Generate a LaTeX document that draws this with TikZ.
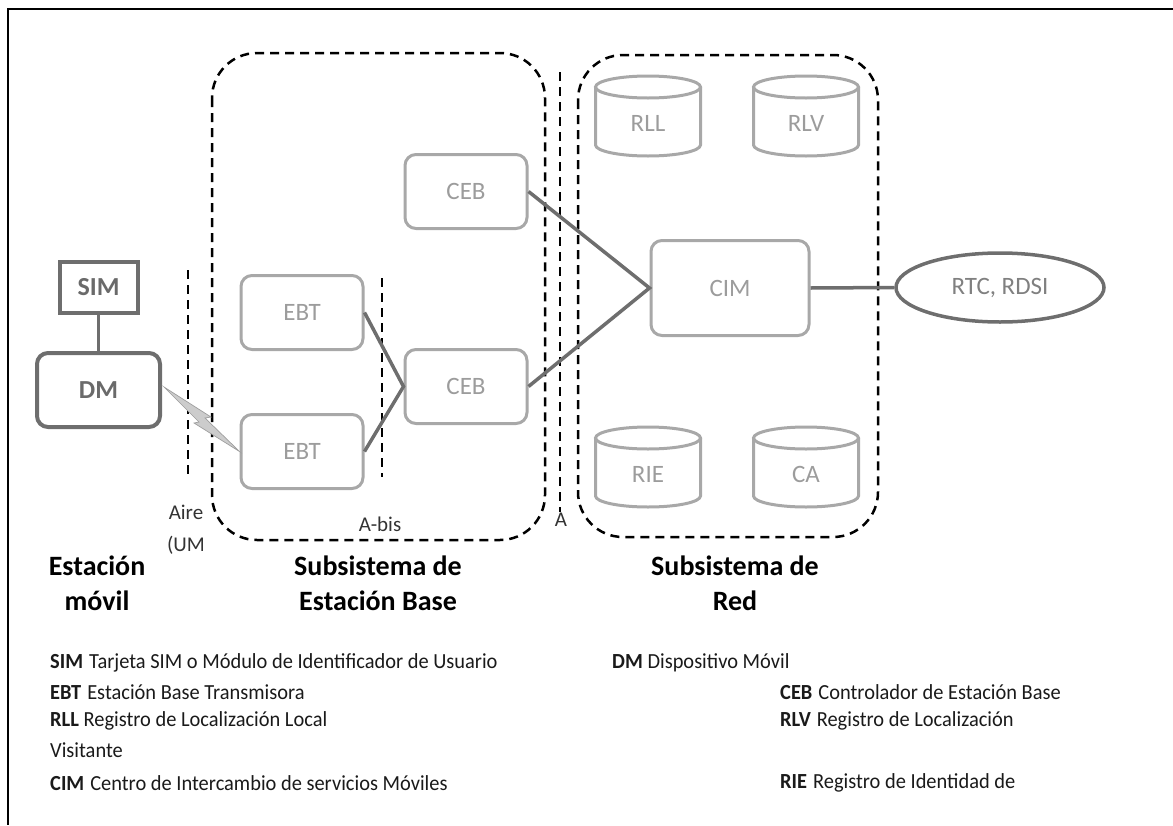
\documentclass[tikz,border=0pt]{standalone}
\usepackage{fontspec}
\setmainfont{Carlito}
\newfontfamily\legfont[FakeStretch=0.95]{Carlito}
\usetikzlibrary{shapes.geometric}
\definecolor{boxline}{HTML}{A8A8A8}
\definecolor{boxtext}{HTML}{9C9C9C}
\definecolor{darkline}{HTML}{6E6E6E}
\definecolor{darktext}{HTML}{6A6A6A}
\definecolor{legtext}{HTML}{1A1A1A}

\tikzset{
  unit/.style={draw=boxline, line width=3pt, rounded corners=11pt,
    font=\fontsize{25}{30}\selectfont, text=boxtext,
    minimum width=122pt, minimum height=74pt, inner sep=0pt},
  mobile/.style={draw=darkline, line width=4pt,
    font=\bfseries\fontsize{26}{30}\selectfont, text=darktext, inner sep=0pt},
  link/.style={draw=darkline, line width=3.5pt},
  zone/.style={draw=black, line width=2.5pt, dash pattern=on 9pt off 6pt},
  caption/.style={font=\bfseries\fontsize{28}{32}\selectfont, text=black},
  iface/.style={font=\fontsize{21}{24}\selectfont, text=black!80},
  legend/.style={anchor=west, font=\legfont\fontsize{21.5}{24}\selectfont,
    text=legtext, inner sep=0pt},
  datastore/.pic={
    \draw[draw=boxline, line width=3pt]
      (-52.5,29) -- (-52.5,-29)
      arc[start angle=180, end angle=360, x radius=52.5, y radius=11]
      -- (52.5,29);
    \draw[draw=boxline, line width=3pt] (0,29) ellipse [x radius=52.5, y radius=11];
    \node[font=\fontsize{25}{30}\selectfont, text=boxtext] (-lbl) at (0,-7) {#1};
  }
}

\begin{document}
\begin{tikzpicture}[x=1pt,y=1pt]
\useasboundingbox (0,0) rectangle (1173,-825);

% page frame (top and left edges)
\draw[line width=2.5pt, black] (1173,-9) -- (8,-9) -- (8,-825);

% subsystem zones and interface lines
\draw[zone, rounded corners=45pt] (212,-53) rectangle (545,-540);
\draw[zone, rounded corners=45pt] (578,-55) rectangle (878,-537);
\coordinate (aireTop) at (188,-270);
\coordinate (aireBot) at (188,-477);
\coordinate (abisTop) at (382,-278);
\coordinate (abisBot) at (382,-477);
\coordinate (aTop) at (560,-72);
\coordinate (aBot) at (560,-512);
\draw[zone] (aireTop) -- (aireBot);
\draw[zone] (abisTop) -- (abisBot);
\draw[zone] (aTop) -- (aBot);

% mobile station
\node[mobile, minimum width=78pt, minimum height=51pt] (sim) at (98.5,-287.5) {SIM};
\node[mobile, rounded corners=11pt, minimum width=123pt, minimum height=74pt] (dm) at (98.5,-390) {DM};

% base station subsystem
\node[unit] (ebt1) at (302,-312.5) {EBT};
\node[unit] (ebt2) at (302,-451.5) {EBT};
\node[unit] (ceb1) at (466,-191.5) {CEB};
\node[unit] (ceb2) at (466,-386.5) {CEB};

% network subsystem
\node[unit, minimum width=158pt, minimum height=95pt] (cim) at (730,-288) {CIM};
\pic (rll) at (648,-116) {datastore=RLL};
\pic (rlv) at (806,-116) {datastore=RLV};
\pic (rie) at (648,-467) {datastore=RIE};
\pic (ca)  at (806,-467) {datastore=CA};
\node[ellipse, draw=darkline, line width=3.5pt, minimum width=208pt, minimum height=69pt,
      font=\fontsize{25}{30}\selectfont, text=black!50, inner sep=0pt] (rtc) at (1000,-287.5) {RTC, RDSI};

% links
\draw[link] (sim.south) -- (dm.north);
\draw[link] (ebt1.east) -- (ceb2.west) -- (ebt2.east);
\draw[link] (ceb1.east) -- (cim.west) -- (ceb2.east);
\draw[link] (cim.east) -- (rtc.west);

% radio link (lightning bolt)
\coordinate (boltA) at ([shift={(2,3)}]dm.east);
\filldraw[fill=black!20, draw=black!38, line width=0.7pt]
  (boltA) -- (211,-417) -- (205,-418) -- (ebt2.west) -- (194,-423) -- (199,-422) -- cycle;

% interface labels
\node[iface] (laire) at (186,-512) {Aire};
\node[iface] (lum) at (186,-545) {(UM};
\node[iface] (labis) at (380,-524) {A-bis};
\node[iface] (la) at (561,-520) {A};

% subsystem captions
\node[caption] (cap1a) at (97,-566) {Estación};
\node[caption] (cap1b) at (97,-601) {móvil};
\node[caption] (cap2a) at (378,-566) {Subsistema de};
\node[caption] (cap2b) at (378,-601) {Estación Base};
\node[caption] (cap3a) at (735,-566) {Subsistema de};
\node[caption] (cap3b) at (735,-601) {Red};

% legend
\node[legend] (lsim) at (50,-663) {\textbf{SIM}\hspace{6pt}Tarjeta SIM o Módulo de Identificador de Usuario};
\node[legend] (ldm)  at (612,-663) {\textbf{DM} Dispositivo Móvil};
\node[legend] (lebt) at (50,-692) {\textbf{EBT}\hspace{6pt}Estación Base Transmisora};
\node[legend] (lceb) at (780,-692) {\textbf{CEB}\hspace{6pt}Controlador de Estación Base};
\node[legend] (lrll) at (50,-721) {\textbf{RLL} Registro de Localización Local};
\node[legend] (lrlv) at (780,-721) {\textbf{RLV}\hspace{6pt}Registro de Localización};
\node[legend] (lvis) at (50,-750) {Visitante};
\node[legend] (lcim) at (50,-783) {\textbf{CIM}\hspace{6pt}Centro de Intercambio de servicios Móviles};
\node[legend] (lrie) at (780,-783) {\textbf{RIE}\hspace{6pt}Registro de Identidad de};
\end{tikzpicture}
\end{document}
